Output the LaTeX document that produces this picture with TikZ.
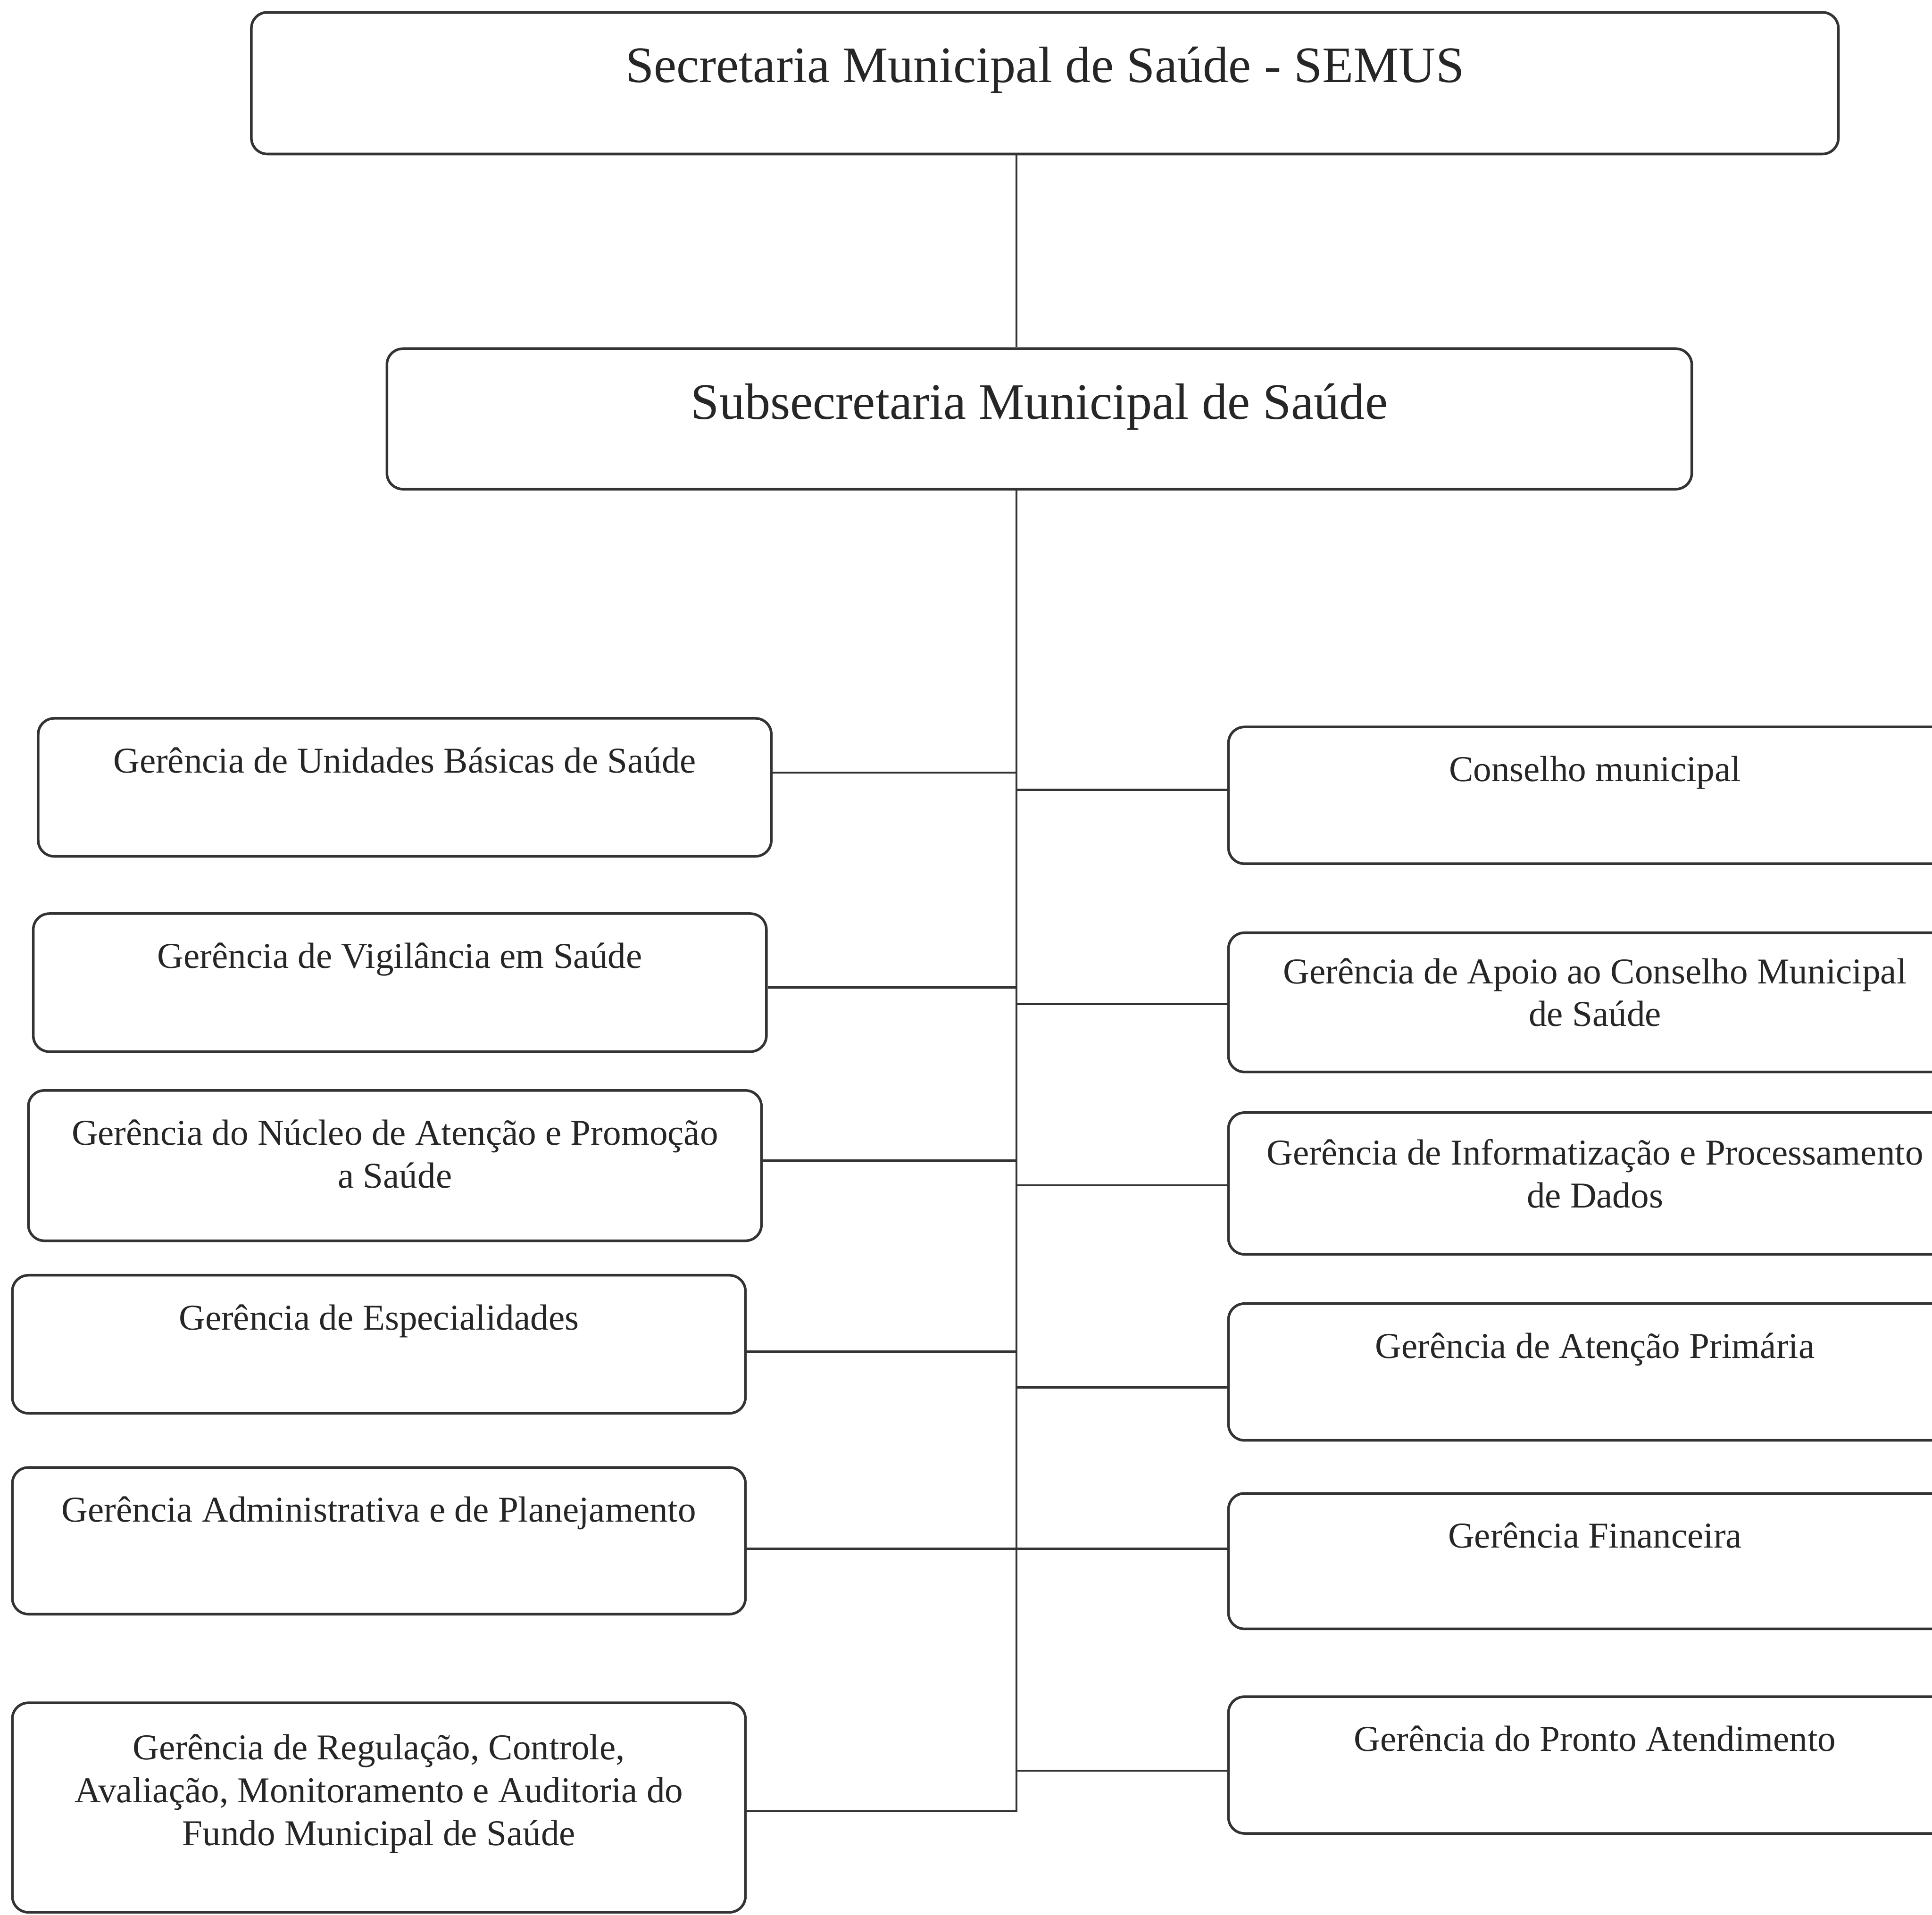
\documentclass[tikz,border=0pt]{standalone}
\usepackage{fontspec}
\setmainfont{Liberation Serif}
\usetikzlibrary{positioning}

\begin{document}
\begin{tikzpicture}[
    on grid,
    box/.style={draw=black!80, line width=0.6pt, rounded corners=0.13cm, inner sep=0pt,
                minimum width=5.95cm, minimum height=1.12cm},
    lbl/.style={anchor=north, yshift=-0.24cm, inner sep=0pt, align=center, text=black!85,
                font=\fontsize{8.4}{9.9}\selectfont},
    headlbl/.style={lbl, yshift=-0.045cm, font=\fontsize{11.8}{14}\selectfont},
    link/.style={draw=black!80, line width=0.5pt}
]

   \useasboundingbox (0,0) rectangle (15.68,-15.54);

   % Top of the chart
   \node[box, minimum width=12.88cm, minimum height=1.15cm,
         label={[headlbl]north:{Secretaria Municipal de Saúde - SEMUS}}] (semus) at (8.48,-0.675) {};
   \node[box, minimum width=10.59cm, minimum height=1.14cm,
         label={[headlbl]north:{Subsecretaria Municipal de Saúde}}] (sub) [below=2.725cm of semus, xshift=-0.045cm] {};

   \coordinate (spine) at (8.25,0); % the vertical trunk

   % Left column
   \node[box, label={[lbl]north:{Gerência de Unidades Básicas de Saúde}}] (ubs) at (3.285,-6.39) {};
   \node[box, label={[lbl]north:{Gerência de Vigilância em Saúde}}] (vig) [below=1.585cm of ubs, xshift=-0.04cm] {};
   \node[box, minimum height=1.22cm,
         label={[lbl]north:{Gerência do Núcleo de Atenção e Promoção\\a Saúde}}] (nucleo) [below=1.485cm of vig, xshift=-0.04cm] {};
   \node[box, label={[lbl]north:{Gerência de Especialidades}}] (esp) [below=1.45cm of nucleo, xshift=-0.13cm] {};
   \node[box, minimum height=1.19cm,
         label={[lbl]north:{Gerência Administrativa e de Planejamento}}] (adm) [below=1.595cm of esp] {};
   \node[box, minimum height=1.70cm,
         label={[lbl, yshift=-0.02cm]north:{Gerência de Regulação, Controle,\\Avaliação, Monitoramento e Auditoria do\\Fundo Municipal de Saúde}}] (reg) [below=2.165cm of adm] {};

   % Right column (runs past the page edge)
   \node[box, minimum height=1.11cm, label={[lbl]north:{Conselho municipal}}] (cons) at (12.945,-6.455) {};
   \node[box, minimum height=1.13cm,
         label={[lbl, yshift=0.03cm]north:{Gerência de Apoio ao Conselho Municipal\\de Saúde}}] (apoio) [below=1.68cm of cons] {};
   \node[box, minimum height=1.15cm,
         label={[lbl, yshift=0.02cm]north:{Gerência de Informatização e Processamento\\de Dados}}] (info) [below=1.47cm of apoio] {};
   \node[box, minimum height=1.11cm, label={[lbl]north:{Gerência de Atenção Primária}}] (aten) [below=1.53cm of info] {};
   \node[box, minimum height=1.10cm, label={[lbl]north:{Gerência Financeira}}] (fin) [below=1.535cm of aten] {};
   \node[box, minimum height=1.11cm, label={[lbl]north:{Gerência do Pronto Atendimento}}] (pronto) [below=1.655cm of fin] {};

   % Trunk
   \draw[link] (semus.south -| spine) -- (sub.north -| spine);
   \draw[link] (sub.south -| spine) |- ([yshift=-0.03cm]reg.east);

   % Branches (not all at the box centres)
   \path[link]
   ([yshift=0.12cm]ubs.east)   edge ([yshift=0.12cm]ubs.east -| spine)
   ([yshift=-0.04cm]vig.east)  edge ([yshift=-0.04cm]vig.east -| spine)
   ([yshift=0.04cm]nucleo.east) edge ([yshift=0.04cm]nucleo.east -| spine)
   ([yshift=-0.06cm]esp.east)  edge ([yshift=-0.06cm]esp.east -| spine)
   ([yshift=-0.065cm]adm.east) edge ([yshift=-0.065cm]adm.east -| fin.west)

   ([yshift=0.045cm]spine |- cons.west)     edge ([yshift=0.045cm]cons.west)
   ([yshift=-0.015cm]spine |- apoio.west)   edge ([yshift=-0.015cm]apoio.west)
   ([yshift=-0.015cm]spine |- info.west)    edge ([yshift=-0.015cm]info.west)
   ([yshift=-0.125cm]spine |- aten.west)    edge ([yshift=-0.125cm]aten.west)
   ([yshift=-0.045cm]spine |- pronto.west)  edge ([yshift=-0.045cm]pronto.west);
\end{tikzpicture}
\end{document}
